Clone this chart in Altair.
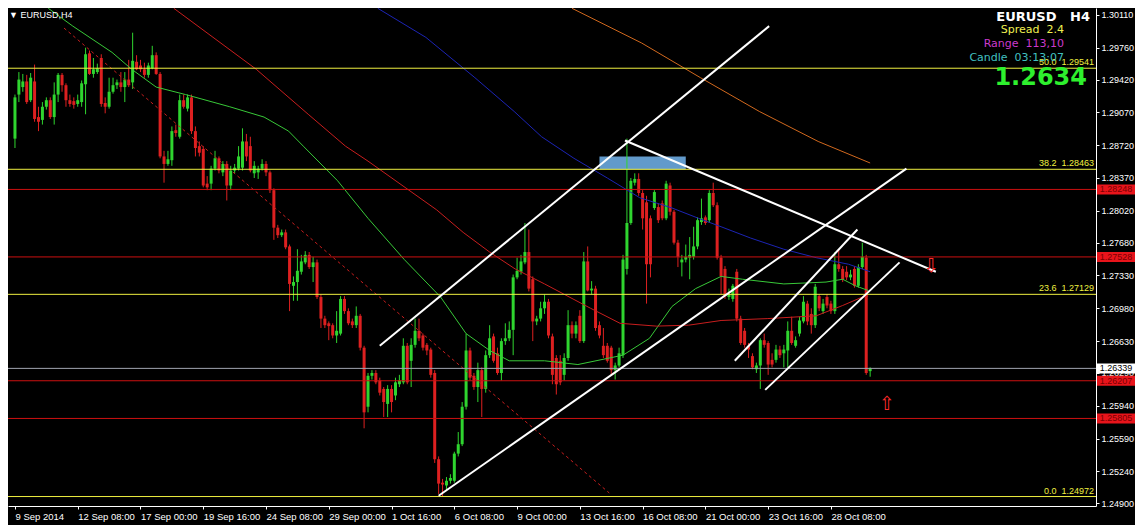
import altair as alt
import pandas as pd

# ---------------- data (EURUSD H4, bar 0 = 9 Sep 2014 16:00), prices x 10000 ----------------
OPEN = [12879,12926,12934,12940,12920,12940,12902,12899,12913,12920,12902,12926,12947,12936,12920,12919,12916,12918,12937,12970,
        12948,12950,12965,12917,12913,12929,12936,12939,12934,12942,12939,12961,12957,12953,12947,12954,12968,12948,12860,12852,
        12856,12888,12881,12920,12911,12923,12887,12871,12868,12831,12831,12847,12858,12843,12852,12829,12845,12847,12848,12876,
        12871,12842,12843,12847,12852,12843,12824,12784,12776,12779,12764,12722,12726,12737,12747,12755,12742,12747,12710,12687,
        12682,12680,12669,12671,12708,12695,12684,12680,12690,12656,12593,12626,12629,12621,12612,12596,12612,12605,12617,12619,
        12658,12642,12659,12674,12669,12659,12654,12629,12537,12512,12509,12514,12514,12543,12553,12593,12653,12626,12614,12632,
        12612,12648,12668,12650,12629,12663,12666,12675,12731,12737,12747,12758,12729,12684,12687,12698,12705,12668,12645,12642,
        12627,12645,12680,12671,12690,12663,12748,12717,12719,12680,12658,12658,12656,12632,12637,12648,12740,12789,12832,12836,
        12821,12811,12794,12805,12806,12810,12794,12829,12801,12768,12747,12750,12752,12753,12764,12790,12795,12792,12821,12808,
        12752,12740,12710,12708,12737,12687,12674,12658,12647,12633,12637,12664,12661,12643,12643,12654,12650,12653,12674,12658,
        12671,12684,12703,12692,12680,12711,12695,12710,12703,12695,12745,12740,12737,12731,12740,12722,12742,12752,12631]
HIGH = [12926,12950,12948,12947,12949,12958,12913,12918,12923,12923,12939,12949,12949,12938,12926,12923,12926,12941,12976,12973,
        12965,12959,12969,12923,12944,12944,12942,12950,12950,12963,12992,12968,12963,12960,12960,12978,12971,12950,12866,12866,
        12892,12894,12926,12926,12926,12926,12892,12876,12871,12839,12850,12866,12860,12855,12855,12850,12852,12871,12890,12884,
        12881,12855,12850,12857,12855,12845,12826,12787,12782,12782,12766,12732,12761,12755,12759,12758,12753,12750,12713,12690,
        12684,12682,12695,12711,12711,12698,12687,12700,12692,12658,12629,12632,12632,12624,12614,12616,12616,12624,12627,12666,
        12661,12666,12687,12687,12671,12661,12656,12632,12540,12516,12518,12521,12545,12566,12598,12671,12656,12629,12640,12635,
        12653,12680,12671,12656,12666,12682,12684,12734,12752,12755,12789,12782,12732,12690,12705,12713,12708,12671,12648,12648,
        12650,12696,12684,12684,12696,12758,12764,12727,12722,12684,12677,12661,12658,12640,12656,12755,12879,12837,12842,12842,
        12824,12818,12797,12824,12810,12813,12834,12832,12803,12771,12755,12766,12774,12785,12795,12815,12797,12824,12832,12811,
        12755,12743,12719,12724,12740,12690,12677,12661,12650,12640,12666,12671,12663,12650,12659,12658,12659,12684,12689,12668,
        12689,12711,12706,12698,12724,12713,12708,12713,12706,12758,12761,12743,12743,12739,12743,12745,12768,12755,12635]
LOW = [12869,12918,12929,12916,12918,12897,12887,12894,12910,12900,12894,12918,12929,12913,12913,12911,12913,12913,12905,12947,
       12944,12948,12913,12906,12911,12927,12932,12929,12918,12934,12932,12952,12950,12944,12944,12953,12947,12858,12832,12850,
       12850,12881,12879,12911,12908,12884,12860,12860,12827,12824,12824,12845,12842,12839,12813,12824,12842,12845,12845,12855,
       12843,12837,12836,12845,12839,12821,12771,12773,12774,12761,12695,12706,12706,12734,12745,12740,12726,12708,12677,12677,
       12664,12666,12661,12669,12692,12680,12677,12677,12653,12570,12587,12622,12617,12605,12582,12582,12587,12600,12614,12617,
       12617,12614,12656,12663,12653,12648,12624,12533,12500,12497,12503,12511,12512,12540,12551,12590,12621,12611,12598,12582,
       12608,12645,12640,12627,12621,12659,12663,12648,12729,12734,12745,12716,12663,12680,12684,12692,12666,12617,12606,12616,
       12621,12642,12666,12666,12661,12661,12716,12713,12674,12666,12645,12640,12627,12622,12635,12645,12734,12787,12829,12818,
       12782,12703,12731,12803,12789,12792,12792,12797,12766,12742,12732,12747,12729,12750,12761,12787,12787,12789,12806,12750,
       12713,12708,12707,12705,12684,12659,12656,12645,12633,12629,12612,12656,12627,12635,12640,12645,12635,12635,12659,12656,
       12668,12682,12680,12671,12677,12695,12692,12698,12692,12692,12737,12726,12728,12728,12720,12720,12740,12627,12625]
CLOSE = [12923,12942,12940,12918,12944,12900,12897,12913,12920,12902,12926,12947,12936,12920,12916,12915,12920,12938,12969,12948,
         12953,12954,12916,12913,12929,12936,12939,12934,12942,12936,12962,12953,12953,12947,12957,12968,12948,12860,12852,12857,
         12887,12885,12920,12913,12923,12887,12869,12864,12829,12827,12847,12858,12845,12852,12829,12845,12848,12860,12876,12860,
         12845,12850,12847,12852,12843,12824,12784,12776,12779,12763,12724,12726,12738,12748,12755,12742,12747,12710,12687,12680,
         12679,12669,12674,12708,12695,12682,12680,12690,12656,12587,12626,12629,12619,12608,12598,12612,12598,12619,12621,12658,
         12619,12659,12674,12666,12656,12653,12627,12537,12511,12510,12514,12517,12543,12553,12593,12653,12624,12614,12632,12612,
         12648,12666,12642,12629,12663,12666,12675,12731,12738,12748,12758,12719,12684,12687,12698,12705,12669,12627,12617,12619,
         12645,12680,12671,12680,12663,12748,12717,12719,12677,12669,12648,12642,12632,12637,12650,12750,12789,12834,12836,12821,
         12794,12745,12745,12822,12792,12794,12831,12801,12768,12753,12750,12753,12755,12764,12792,12794,12789,12821,12808,12752,
         12732,12711,12713,12722,12687,12661,12659,12654,12635,12637,12664,12659,12638,12638,12654,12648,12654,12674,12661,12664,
         12685,12705,12684,12680,12721,12698,12703,12701,12695,12745,12740,12729,12731,12734,12722,12742,12753,12629,12634]

X_TICK_IDX = [0, 16, 32, 48, 64, 80, 96, 112, 128, 144, 160, 176, 192, 208]
X_LABELS = ["9 Sep 2014", "12 Sep 08:00", "17 Sep 00:00", "19 Sep 16:00", "24 Sep 08:00", "29 Sep 00:00",
            "1 Oct 16:00", "6 Oct 08:00", "9 Oct 00:00", "13 Oct 16:00", "16 Oct 08:00", "21 Oct 00:00",
            "23 Oct 16:00", "28 Oct 08:00"]
Y_TICKS = [1.30110, 1.29760, 1.29420, 1.29070, 1.28720, 1.28370, 1.28020, 1.27680, 1.27330,
           1.26980, 1.26630, 1.26290, 1.25940, 1.25590, 1.25240, 1.24900]

FIB_LEVELS = [1.29541, 1.28463, 1.27129, 1.24972]
FIB_NAMES = ["50.0", "38.2", "23.6", "0.0"]
RED_LEVELS = [1.28248, 1.27528, 1.26207, 1.25805]
BID = [1.26339]

GREEN_MA_IDX = [8.5, 14.75, 24.75, 29.75, 36, 43.5, 54.75, 63.5, 69.75, 73.5, 82.25, 90, 99.25, 108.5, 115,
                121, 126, 135, 143.5, 155, 161.75, 167.5, 173.5, 180, 185.5, 196, 206.75, 211, 214.25, 217.5]
GREEN_MA = [1.3018, 1.2999, 1.2971, 1.2953, 1.2934, 1.2926, 1.2913, 1.2902, 1.2887, 1.2871, 1.2834, 1.2794,
            1.2750, 1.2710, 1.2671, 1.2653, 1.2642, 1.2642, 1.2638, 1.2648, 1.2666, 1.2700, 1.2719, 1.2732,
            1.2729, 1.2724, 1.2726, 1.2729, 1.2722, 1.2717]
RED_MA_IDX = [40.5, 61.5, 74.75, 84.25, 90, 107.5, 114.25, 121, 127.5, 135, 146.75, 154.25, 163.5, 171.75,
              180, 191.75, 204.25, 211, 216, 217.5]
RED_MA = [1.3018, 1.2953, 1.2905, 1.2871, 1.2855, 1.2803, 1.2779, 1.2758, 1.2740, 1.2724, 1.2698, 1.2682,
          1.2679, 1.2680, 1.2685, 1.2687, 1.2690, 1.2701, 1.2710, 1.2711]
BLUE_MA_IDX = [92.5, 104.75, 117.25, 127.25, 134.25, 142.5, 151, 159.25, 167.5, 174.25, 180, 187.5, 196,
               204.25, 212.5, 218]
BLUE_MA = [1.3018, 1.2987, 1.2944, 1.2908, 1.2881, 1.2858, 1.2837, 1.2816, 1.2805, 1.2794, 1.2785, 1.2773,
           1.2761, 1.2752, 1.2745, 1.2737]
ORANGE_MA_IDX = [142, 159.75, 174.75, 189.75, 204.75, 218]
ORANGE_MA = [1.3018, 1.2981, 1.2944, 1.2908, 1.2876, 1.2853]

DASH_IDX = [12.5, 151.5]
DASH_P = [1.2997, 1.2501]

TL_X1 = [93, 108, 155.5, 183.5, 191.25]
TL_Y1 = [1.2658, 1.2498, 1.2877, 1.2642, 1.2611]
TL_X2 = [192.25, 227.25, 234.75, 214.75, 225.5]
TL_Y2 = [1.2999, 1.2847, 1.2737, 1.2782, 1.2747]

ZONE_X = [149, 171]
ZONE_P = [1.2846, 1.2860]

ARROW_IDX = [233.5, 222.25]
ARROW_P = [1.2743, 1.2596]
ARROW_TXT = ["\u21e9", "\u21e7"]

# ---------------- styling ----------------
BULL = "#2fd52f"
BEAR = "#dd2020"
YELLOW = "#f0f040"
REDLINE = "#cc1010"
FONT = "Liberation Sans"
INFO_FONT = "DejaVu Sans"
PLOT_W, PLOT_H = 1088, 498
BOX_X = PLOT_W + 20

XS = alt.Scale(domain=[-0.5, 274.3], nice=False, zero=False)
YS = alt.Scale(domain=[1.24871, 1.301835], nice=False, zero=False)

label_expr = "[" + ",".join("'%s'" % s for s in X_LABELS) + "][round(datum.value/16)]"
XAXIS = alt.Axis(values=X_TICK_IDX, labelExpr=label_expr, title=None, grid=False, labelAlign="left",
                 labelColor="white", labelFont=FONT, labelFontSize=9.5, labelPadding=2, labelOverlap=False,
                 labelFlush=False, tickColor="white", tickSize=3, domainColor="white")
YAXIS = alt.Axis(orient="right", values=Y_TICKS, format=".5f", title=None, grid=False,
                 labelColor="white", labelFont=FONT, labelFontSize=9, labelPadding=2, labelOverlap=False,
                 labelFlush=False, tickColor="white", tickSize=3, domainColor="white")


def X(field):
    return alt.X(field, scale=XS, axis=XAXIS)


def Y(field):
    return alt.Y(field, scale=YS, axis=YAXIS)


candles = pd.DataFrame({
    "i": list(range(len(OPEN))),
    "o": [v / 10000 for v in OPEN],
    "h": [v / 10000 for v in HIGH],
    "l": [v / 10000 for v in LOW],
    "c": [v / 10000 for v in CLOSE],
})
cond = alt.condition("datum.c >= datum.o", alt.value(BULL), alt.value(BEAR))

wick = alt.Chart(candles).mark_rule(strokeWidth=1, clip=True).encode(
    x=X("i:Q"), y=Y("l:Q"), y2="h:Q", color=cond)
body = alt.Chart(candles).mark_bar(size=3, clip=True).encode(
    x=X("i:Q"), y=Y("o:Q"), y2="c:Q", color=cond)

zone = alt.Chart(pd.DataFrame({"i": [ZONE_X[0]], "i2": [ZONE_X[1]], "l": [ZONE_P[0]], "h": [ZONE_P[1]]})).mark_rect(
    color="#629acb", clip=True).encode(x=X("i:Q"), x2="i2:Q", y=Y("l:Q"), y2="h:Q")

ma_rows = []
for name, xs, ps in [("green", GREEN_MA_IDX, GREEN_MA), ("red", RED_MA_IDX, RED_MA),
                     ("blue", BLUE_MA_IDX, BLUE_MA), ("orange", ORANGE_MA_IDX, ORANGE_MA)]:
    for k, (xv, pv) in enumerate(zip(xs, ps)):
        ma_rows.append({"s": name, "i": xv, "l": pv, "k": k})
ma = alt.Chart(pd.DataFrame(ma_rows)).mark_line(strokeWidth=1, clip=True).encode(
    x=X("i:Q"), y=Y("l:Q"), order="k:Q",
    color=alt.Color("s:N", legend=None,
                    scale=alt.Scale(domain=["green", "red", "blue", "orange"],
                                    range=["#38c838", "#c81e1e", "#1c24b4", "#d2691e"])))

dash = alt.Chart(pd.DataFrame({"i": [DASH_IDX[0]], "i2": [DASH_IDX[1]], "l": [DASH_P[0]], "h": [DASH_P[1]]})).mark_rule(
    color="#c81e1e", strokeDash=[3, 3], strokeWidth=1, clip=True).encode(
    x=X("i:Q"), x2="i2:Q", y=Y("l:Q"), y2="h:Q")

fib_df = pd.DataFrame({"l": FIB_LEVELS, "t": [n + "\u00a0\u00a0" + "%.5f" % v for n, v in zip(FIB_NAMES, FIB_LEVELS)]})
fib_lines = alt.Chart(fib_df).mark_rule(color=YELLOW, strokeWidth=1).encode(y=Y("l:Q"))
fib_text = alt.Chart(fib_df).mark_text(color=YELLOW, font=FONT, fontSize=9, align="right", baseline="bottom",
                                       dy=-1).encode(x=alt.value(PLOT_W - 2), y=Y("l:Q"), text="t:N")
red_lines = alt.Chart(pd.DataFrame({"l": RED_LEVELS})).mark_rule(color=REDLINE, strokeWidth=1).encode(y=Y("l:Q"))
bid_line = alt.Chart(pd.DataFrame({"l": BID})).mark_rule(color="#a0a4b0", strokeWidth=1).encode(y=Y("l:Q"))

tl = alt.Chart(pd.DataFrame({"i": TL_X1, "i2": TL_X2, "l": TL_Y1, "h": TL_Y2})).mark_rule(
    color="white", strokeWidth=2, clip=True).encode(x=X("i:Q"), x2="i2:Q", y=Y("l:Q"), y2="h:Q")

arrows = alt.Chart(pd.DataFrame({"i": ARROW_IDX, "l": ARROW_P, "t": ARROW_TXT})).mark_text(
    color="#ff2a2a", font="DejaVu Sans", fontSize=19).encode(x=X("i:Q"), y=Y("l:Q"), text="t:N")

BOX = "M-1,-0.263H1V0.263H-1Z"
box_red = alt.Chart(pd.DataFrame({"l": RED_LEVELS})).mark_point(shape=BOX, size=1444, filled=True, opacity=1,
                                                                 color="#e8141b").encode(
    x=alt.value(BOX_X), y=Y("l:Q"))
box_red_t = alt.Chart(pd.DataFrame({"l": RED_LEVELS, "t": ["%.5f" % v for v in RED_LEVELS]})).mark_text(
    color="#7a0000", font=FONT, fontSize=9, align="center", baseline="middle").encode(
    x=alt.value(BOX_X), y=Y("l:Q"), text="t:N")
box_bid = alt.Chart(pd.DataFrame({"l": BID})).mark_point(shape=BOX, size=1444, filled=True, opacity=1,
                                                          color="white").encode(
    x=alt.value(BOX_X), y=Y("l:Q"))
box_bid_t = alt.Chart(pd.DataFrame({"l": BID, "t": ["%.5f" % v for v in BID]})).mark_text(
    color="black", font=FONT, fontSize=9, align="center", baseline="middle").encode(
    x=alt.value(BOX_X), y=Y("l:Q"), text="t:N")


def label(text, x, y, size, color, bold=False, align="right", font=INFO_FONT):
    return alt.Chart(pd.DataFrame({"t": [text]})).mark_text(
        color=color, font=font, fontSize=size, fontWeight="bold" if bold else "normal",
        align=align, baseline="alphabetic").encode(x=alt.value(x), y=alt.value(y), text="t:N")


texts = [
    label("\u25bc\u00a0EURUSD,H4", 1, 10, 9, "white", align="left", font=FONT),
    label("EURUSD\u00a0\u00a0\u00a0H4", 1082, 12.5, 13, "white", bold=True),
    label("Spread\u00a0\u00a02.4", 1056, 25, 11, "#f0f050"),
    label("Range\u00a0\u00a0113,10", 1056, 39, 11, "#cc3acc"),
    label("Candle\u00a0\u00a003:13:07", 1056, 53, 11, "#40c0c0"),
    label("1.2634", 1079, 77, 24, "#2ef02e", bold=True),
]

chart = alt.layer(zone, wick, body, ma, dash, fib_lines, red_lines, bid_line, tl, arrows, fib_text,
                  box_red, box_red_t, box_bid, box_bid_t, *texts).properties(
    width=PLOT_W, height=PLOT_H, autosize=alt.AutoSizeParams(type="none"),
    padding={"left": 0, "top": 0, "right": 1127 - PLOT_W, "bottom": 19}
).configure(background="#000000").configure_view(stroke=None)

chart.save("out.html", embed_options={"renderer": "svg", "actions": False})
